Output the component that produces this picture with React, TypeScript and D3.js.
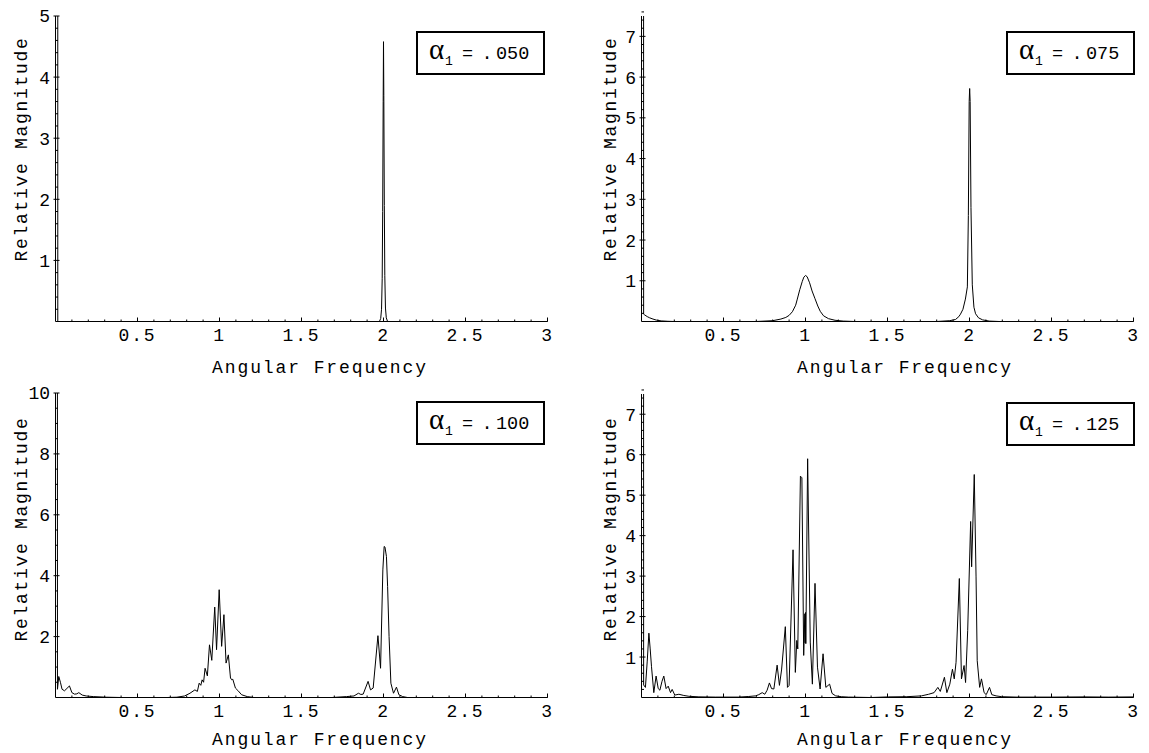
import React from "react";
import * as d3 from "d3";

type Pt = [number, number];

// tick labels
const xTicks = [0.5, 1, 1.5, 2, 2.5, 3];
const yTicks5 = [1, 2, 3, 4, 5];
const yTicks75 = [1, 2, 3, 4, 5, 6, 7];
const yTicks10 = [2, 4, 6, 8, 10];

// alpha_1 values shown in the boxes
const alphaLabels = [".050", ".075", ".100", ".125"];

// [angular frequency, relative magnitude]
const curve050: Pt[] = [
  [0.013, 30], [0.014, 0], [1.975, 0], [1.983, 0.05], [1.988, 0.2], [1.992, 0.7],
  [1.995, 1.8], [1.998, 3.6], [2.0, 4.58], [2.002, 3.7], [2.005, 1.9], [2.008, 0.75],
  [2.012, 0.22], [2.017, 0.06], [2.025, 0], [3, 0],
];

const curve075: Pt[] = [
  [0.012, 30], [0.013, 0.18], [0.02, 0.16], [0.035, 0.12], [0.05, 0.09], [0.07, 0.06],
  [0.09, 0.035], [0.12, 0.015], [0.16, 0.005], [0.2, 0],
  [0.7, 0], [0.8, 0.02], [0.85, 0.06], [0.88, 0.1], [0.9, 0.15], [0.92, 0.24],
  [0.94, 0.4], [0.95, 0.55], [0.965, 0.78], [0.98, 0.98], [0.99, 1.09], [1.0, 1.13],
  [1.01, 1.1], [1.025, 0.95], [1.04, 0.75], [1.058, 0.56], [1.075, 0.38], [1.09, 0.25],
  [1.11, 0.14], [1.14, 0.07], [1.18, 0.03], [1.23, 0.01], [1.3, 0],
  [1.8, 0], [1.88, 0.02], [1.915, 0.05], [1.935, 0.12], [1.945, 0.18], [1.96, 0.3],
  [1.975, 0.55], [1.987, 0.85], [1.993, 2.6], [1.998, 5.4], [2.001, 5.72], [2.004, 5.4],
  [2.009, 2.8], [2.017, 0.9], [2.027, 0.35], [2.037, 0.19], [2.055, 0.09], [2.08, 0.04],
  [2.12, 0.01], [2.18, 0], [3, 0],
];

const curve100: Pt[] = [
  [0.011, 40], [0.012, 0.27], [0.02, 0.69], [0.03, 0.5], [0.04, 0.27], [0.055, 0.22],
  [0.07, 0.3], [0.085, 0.38], [0.1, 0.16], [0.116, 0.11], [0.13, 0.12], [0.142, 0.16],
  [0.163, 0.08], [0.187, 0.05], [0.23, 0.03], [0.31, 0.01], [0.4, 0],
  [0.68, 0], [0.74, 0.01], [0.787, 0.05], [0.82, 0.14], [0.85, 0.25], [0.865, 0.2],
  [0.876, 0.47], [0.886, 0.4], [0.894, 0.58], [0.903, 0.5], [0.912, 0.96], [0.926, 0.71],
  [0.939, 1.73], [0.953, 1.22], [0.971, 2.97], [0.982, 1.57], [0.998, 3.54], [1.013, 1.68],
  [1.027, 2.72], [1.04, 1.13], [1.054, 1.4], [1.067, 0.64], [1.075, 0.58], [1.081, 0.6],
  [1.097, 0.31], [1.112, 0.23], [1.135, 0.09], [1.169, 0.03], [1.21, 0],
  [1.685, 0], [1.775, 0.03], [1.82, 0.05], [1.847, 0.14], [1.862, 0.1], [1.876, 0.11],
  [1.906, 0.53], [1.921, 0.25], [1.937, 0.31], [1.966, 2.03], [1.982, 0.96], [1.996, 4.19],
  [2.004, 4.96], [2.009, 4.94], [2.018, 4.63], [2.025, 3.65], [2.034, 2.0], [2.045, 0.47],
  [2.061, 0.14], [2.079, 0.34], [2.094, 0.09], [2.117, 0.03], [2.146, 0], [3, 0],
];

const curve125: Pt[] = [
  [0.012, 30], [0.013, 0.31], [0.024, 0.25], [0.035, 0.9], [0.045, 1.59], [0.053, 1.2],
  [0.061, 0.76], [0.075, 0.12], [0.089, 0.53], [0.102, 0.22], [0.112, 0.18], [0.125, 0.4],
  [0.136, 0.53], [0.15, 0.22], [0.163, 0.28], [0.177, 0.12], [0.187, 0.2], [0.203, 0.06],
  [0.228, 0.08], [0.258, 0.05], [0.289, 0.03], [0.35, 0.016], [0.45, 0.01], [0.59, 0.01],
  [0.654, 0.025], [0.695, 0.04], [0.715, 0.07], [0.736, 0.12], [0.752, 0.08], [0.766, 0.18],
  [0.78, 0.36], [0.793, 0.22], [0.807, 0.21], [0.827, 0.8], [0.841, 0.3], [0.854, 0.68],
  [0.877, 1.75], [0.89, 0.25], [0.9, 0.3], [0.924, 3.65], [0.938, 0.62], [0.947, 1.41],
  [0.953, 1.2], [0.969, 5.47], [0.978, 5.43], [0.989, 1.04], [0.996, 2.07], [0.998, 1.35],
  [1.0, 2.1], [1.002, 1.33], [1.013, 5.9], [1.029, 1.37], [1.042, 0.33], [1.058, 2.82],
  [1.073, 0.75], [1.089, 0.21], [1.107, 1.08], [1.124, 0.25], [1.147, 0.33], [1.162, 0.1],
  [1.184, 0.04], [1.218, 0.02], [1.262, 0.01], [1.4, 0], [1.507, 0.015], [1.618, 0.02],
  [1.707, 0.04], [1.751, 0.08], [1.784, 0.12], [1.807, 0.25], [1.822, 0.15], [1.847, 0.5],
  [1.862, 0.12], [1.88, 0.33], [1.896, 0.7], [1.907, 0.46], [1.918, 0.87], [1.938, 2.94],
  [1.951, 0.46], [1.967, 0.79], [1.976, 0.37], [1.989, 1.66], [2.007, 4.35], [2.013, 3.23],
  [2.029, 5.51], [2.04, 2.98], [2.047, 0.91], [2.062, 0.25], [2.073, 0.46], [2.089, 0.12],
  [2.102, 0.07], [2.122, 0.25], [2.136, 0.07], [2.162, 0.04], [2.196, 0.02], [2.284, 0.01],
  [2.5, 0.01], [2.7, 0.015], [2.85, 0.01], [3, 0.015],
];

const curves = [curve050, curve075, curve100, curve125];
const yMaxes = [5, 7.5, 10, 7.5];
const yMajors = [yTicks5, yTicks75, yTicks10, yTicks75];
const yMinorSteps = [0.2, 0.2, 0.5, 0.2];

// layout of the four panels
const layout = [
  { left: 55.5, right: 547.5, top: 16, bottom: 321.5, boxX: 417, boxY: 32, yLabX: 27, yLabY: 149, xLabX: 320, xLabY: 373 },
  { left: 641.5, right: 1133.5, top: 16, bottom: 321.5, boxX: 1007, boxY: 32, yLabX: 616, yLabY: 149, xLabX: 905, xLabY: 373 },
  { left: 55.5, right: 547.5, top: 393, bottom: 697.5, boxX: 417, boxY: 402, yLabX: 27, yLabY: 529, xLabX: 320, xLabY: 745 },
  { left: 641.5, right: 1133.5, top: 394, bottom: 697.5, boxX: 1007, boxY: 403, yLabX: 616, yLabY: 529, xLabX: 905, xLabY: 745 },
];

const MONO = "'Courier New', Courier, 'Nimbus Mono PS', FreeMono, 'Liberation Mono', monospace";
const INK = "#000";

const Panel = ({ i }: { i: number }) => {
  const L = layout[i];
  const x = d3.scaleLinear().domain([0, 3]).range([L.left, L.right]);
  const y = d3.scaleLinear().domain([0, yMaxes[i]]).range([L.bottom, L.top]);
  const line = d3.line<Pt>().x((d) => x(d[0])).y((d) => y(d[1]));

  const xMinor = d3.range(1, 31).map((k) => k / 10).filter((v) => Math.abs(v * 2 - Math.round(v * 2)) > 1e-6);
  const step = yMinorSteps[i];
  const yMinor = d3
    .range(1, Math.round(yMaxes[i] / step) + 1)
    .map((k) => k * step)
    .filter((v) => !yMajors[i].some((m) => Math.abs(m - v) < 1e-6));

  const clipId = `clip${i}`;

  return (
    <g>
      <defs>
        <clipPath id={clipId}>
          <rect x={L.left - 3} y={L.top} width={L.right - L.left + 6} height={L.bottom - L.top + 3} />
        </clipPath>
      </defs>

      {/* curve */}
      <path d={line(curves[i]) || ""} fill="none" stroke="#000" strokeWidth={1} clipPath={`url(#${clipId})`} />

      {/* axes */}
      <line x1={L.left} x2={L.right} y1={L.bottom} y2={L.bottom} stroke="#000" strokeWidth={1} />
      <line x1={L.left} x2={L.left} y1={L.top} y2={L.bottom} stroke="#000" strokeWidth={1} />

      {/* x ticks */}
      {xMinor.map((v) => (
        <line key={"xm" + v} x1={x(v)} x2={x(v)} y1={L.bottom} y2={L.bottom - 2} stroke="#000" strokeWidth={1} />
      ))}
      {xTicks.map((v) => (
        <g key={"x" + v}>
          <line x1={x(v)} x2={x(v)} y1={L.bottom} y2={L.bottom - 4} stroke="#000" strokeWidth={1} />
          <text x={x(v)} y={L.bottom + 19} textAnchor="middle" fontFamily={MONO} fontSize={18} letterSpacing={1.9} fill={INK}>
            {String(v)}
          </text>
        </g>
      ))}

      {/* y ticks */}
      {yMinor.map((v) => (
        <line key={"ym" + v} x1={L.left} x2={L.left + 2.5} y1={y(v)} y2={y(v)} stroke="#000" strokeWidth={1} />
      ))}
      {yMajors[i].map((v) => (
        <g key={"y" + v}>
          <line x1={L.left - 2} x2={L.left + 4} y1={y(v)} y2={y(v)} stroke="#000" strokeWidth={1} />
          <text x={L.left - 5.5} y={y(v)} dy="0.36em" textAnchor="end" fontFamily={MONO} fontSize={18} fill={INK}>
            {String(v)}
          </text>
        </g>
      ))}

      {/* axis labels */}
      <text x={L.xLabX} y={L.xLabY} textAnchor="middle" fontFamily={MONO} fontSize={18} letterSpacing={1.9} fill={INK}>
        Angular Frequency
      </text>
      <text
        transform={`translate(${L.yLabX},${L.yLabY}) rotate(-90)`}
        textAnchor="middle"
        fontFamily={MONO}
        fontSize={18}
        letterSpacing={1.7}
        fill={INK}
      >
        Relative Magnitude
      </text>

      {/* alpha box */}
      <rect x={L.boxX} y={L.boxY} width={127} height={42} fill="#fff" stroke="#000" strokeWidth={2} />
      <text y={L.boxY + 27} fill={INK}>
        <tspan x={L.boxX + 12} fontFamily="'Liberation Serif', 'DejaVu Serif', serif" fontSize={29}>
          α
        </tspan>
        <tspan x={L.boxX + 28} dy={6} fontFamily={MONO} fontSize={13}>
          1
        </tspan>
        <tspan x={L.boxX + 45} dy={-6} fontFamily={MONO} fontSize={18.5}>
          =
        </tspan>
        <tspan x={L.boxX + 64.5} fontFamily={MONO} fontSize={18.5}>
          .
        </tspan>
        <tspan x={L.boxX + 79} fontFamily={MONO} fontSize={18.5}>
          {alphaLabels[i].slice(1)}
        </tspan>
      </text>
    </g>
  );
};

const App = () => {
  return (
    <svg
      width={1149}
      height={753}
      style={{ position: "absolute", left: 0, top: 0, background: "#fff", display: "block" }}
    >
      <rect x={0} y={0} width={1149} height={753} fill="#fff" />
      {[0, 1, 2, 3].map((i) => (
        <Panel key={i} i={i} />
      ))}
    </svg>
  );
};

export default App;
